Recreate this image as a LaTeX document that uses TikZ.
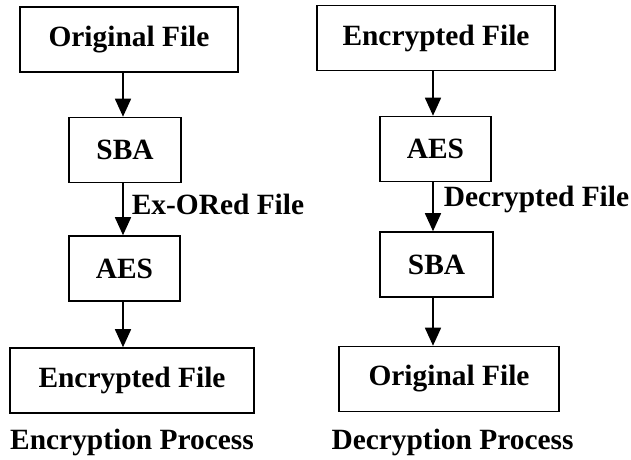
\documentclass[tikz,border=0pt]{standalone}
\usepackage{fontspec}
\setmainfont{Liberation Serif}
\usetikzlibrary{arrows.meta}

\begin{document}
\begin{tikzpicture}[x=1pt,y=-1pt]
    \tikzstyle{every node}=[font=\fontsize{29.4}{32}\selectfont\bfseries]
    \tikzstyle{box}=[draw,line width=1.6pt,inner sep=0pt]
    \tikzstyle{flow}=[line width=1.6pt,-{Triangle[length=18pt,width=16pt]}]
    \def\h{65pt}
    \useasboundingbox (0,0) rectangle (631,459);
    % encryption
    \coordinate (axL) at (123,0);
    \node[box,minimum width=218pt,minimum height=\h] (origL) at (129,39.5) {Original File};
    \node[box,minimum width=112pt,minimum height=\h] (sbaL) at (125,150) {SBA};
    \node[box,minimum width=111pt,minimum height=\h] (aesL) at (124.5,268.5) {AES};
    \node[box,minimum width=244pt,minimum height=\h] (encL) at (132,380.5) {Encrypted File};
    \node (capL) at (132,442) {Encryption Process};
    \draw[flow] (origL.south -| axL) -- (sbaL.north -| axL);
    \draw[flow] (sbaL.south -| axL) -- node[pos=0.4,anchor=west,inner sep=8pt] (xorL) {Ex-ORed File} (aesL.north -| axL);
    \draw[flow] (aesL.south -| axL) -- (encL.north -| axL);
    % decryption
    \coordinate (axR) at (433,0);
    \node[box,minimum width=238pt,minimum height=\h] (encR) at (436,38) {Encrypted File};
    \node[box,minimum width=111pt,minimum height=\h] (aesR) at (435.5,149) {AES};
    \node[box,minimum width=113pt,minimum height=\h] (sbaR) at (436.5,264.5) {SBA};
    \node[box,minimum width=220pt,minimum height=\h] (origR) at (449,379) {Original File};
    \node (capR) at (452.5,442) {Decryption Process};
    \draw[flow] (encR.south -| axR) -- (aesR.north -| axR);
    \draw[flow] (aesR.south -| axR) -- node[pos=0.36,anchor=west,inner sep=10pt] (decR) {Decrypted File} (sbaR.north -| axR);
    \draw[flow] (sbaR.south -| axR) -- (origR.north -| axR);
\end{tikzpicture}
\end{document}
